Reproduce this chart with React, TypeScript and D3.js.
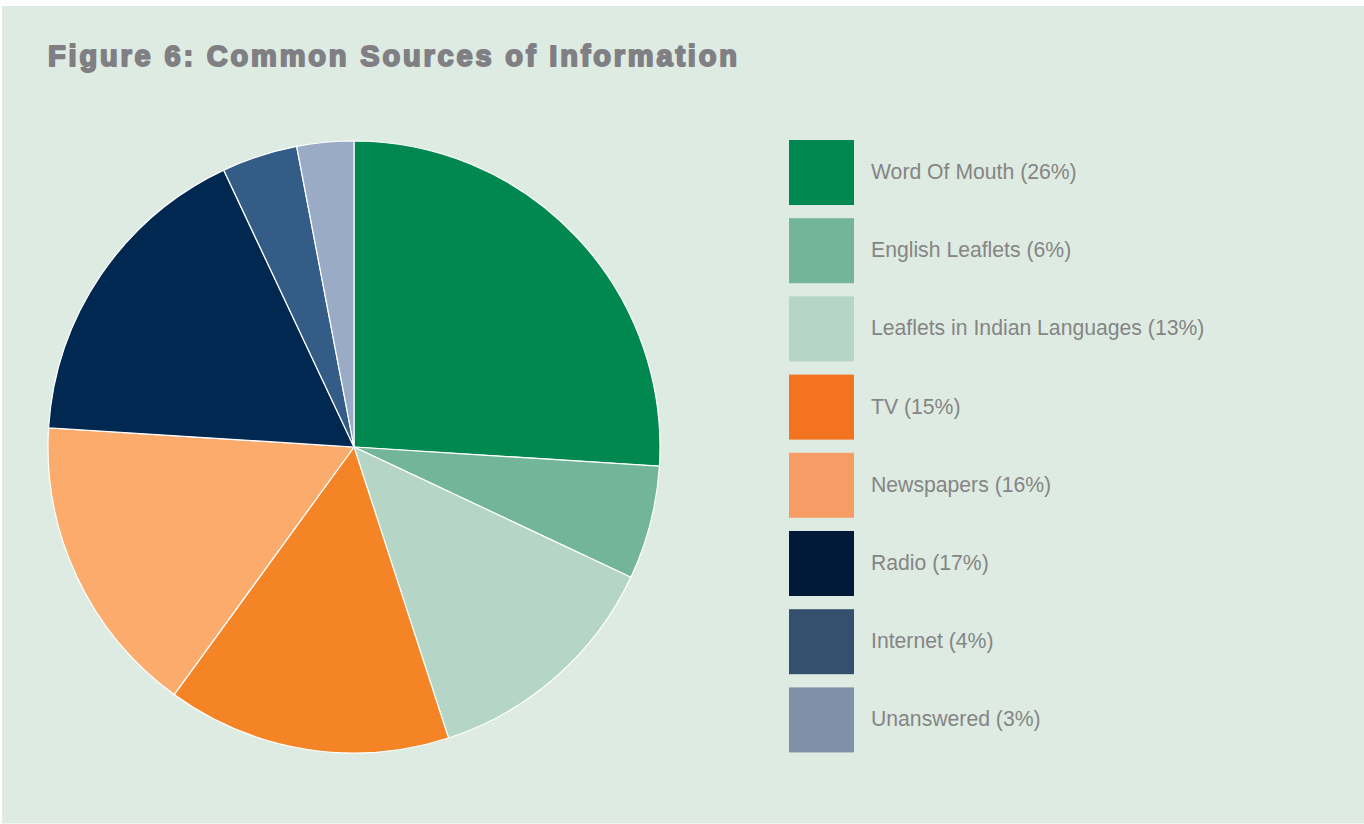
import React from "react";
import * as d3 from "d3";

const labels = [
  "Word Of Mouth",
  "English Leaflets",
  "Leaflets in Indian Languages",
  "TV",
  "Newspapers",
  "Radio",
  "Internet",
  "Unanswered",
];
const values = [26, 6, 13, 15, 16, 17, 4, 3];
const pieColors = ["#008850", "#72b599", "#b5d6c6", "#f58426", "#fbab6c", "#002850", "#335d87", "#9aabc6"];
const legendColors = ["#008850", "#72b599", "#b5d6c6", "#f47321", "#f89c65", "#001a38", "#34506c", "#8090a8"];

export default function App() {
  const width = 1364;
  const height = 824;
  const cx = 354;
  const cy = 447;
  const r = 306;

  const pie = d3.pie<number>().sort(null).value((d) => d)(values);
  const arc = d3.arc<d3.PieArcDatum<number>>().innerRadius(0).outerRadius(r);

  const legendY = d3.scaleBand<number>().domain(d3.range(labels.length)).range([140, 140 + 78.2 * 8]).paddingInner(0);

  return (
    <svg
      width={width}
      height={height}
      style={{ position: "absolute", left: 0, top: 0, fontFamily: "'Liberation Sans', Arial, sans-serif" }}
    >
      <rect x={0} y={0} width={width} height={height} fill="#ffffff" />
      <rect x={2} y={6} width={width - 2} height={height - 6.5} fill="#deebe2" />
      <text
        x={48}
        y={66}
        fontSize={29}
        fontWeight="bold"
        fill="#808084"
        stroke="#808084"
        strokeWidth={1.9}
        strokeLinejoin="round"
        textLength={689}
        lengthAdjust="spacing"
      >
        Figure 6: Common Sources of Information
      </text>
      <g transform={`translate(${cx},${cy})`}>
        {pie.map((p, i) => (
          <path key={i} d={arc(p) || ""} fill={pieColors[i]} stroke="#ffffff" strokeWidth={1.2} />
        ))}
      </g>
      <g>
        {labels.map((l, i) => {
          const y = legendY(i) as number;
          return (
            <g key={l}>
              <rect x={789} y={y} width={65} height={65} fill={legendColors[i]} />
              <text x={871} y={y + 31.5} dy="0.35em" fontSize={21.2} fill="#858585">
                {`${l} (${values[i]}%)`}
              </text>
            </g>
          );
        })}
      </g>
    </svg>
  );
}
